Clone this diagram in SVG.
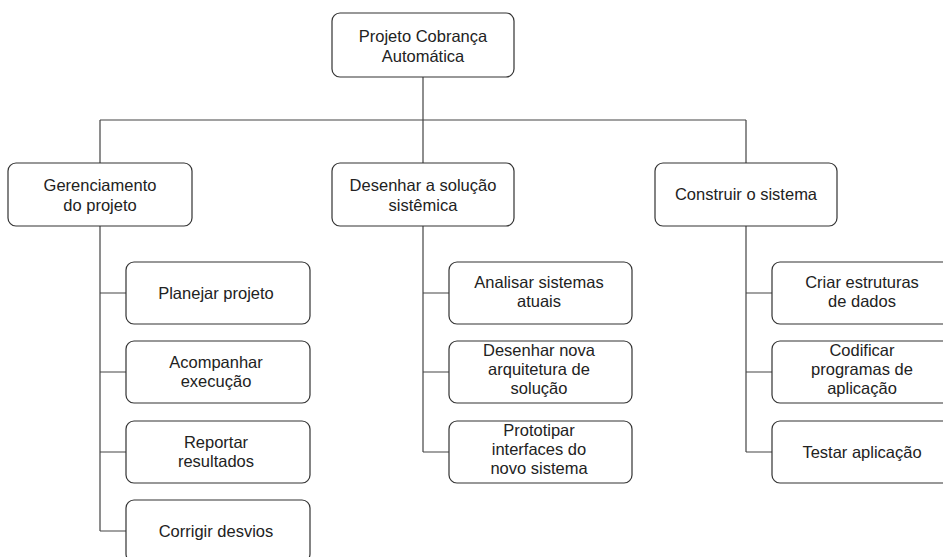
<svg xmlns="http://www.w3.org/2000/svg" width="943" height="557" viewBox="0 0 943 557">
<style>
.b{fill:#fff;stroke:#333;stroke-width:1.2}
.t{font-family:"Liberation Sans",Arial,sans-serif;font-size:16.5px;fill:#222;text-anchor:middle}
.c{fill:none;stroke:#444;stroke-width:1.2}
</style>
<rect width="943" height="557" fill="#fff"/>
<g id="connectors">
<path class="c" d="M423,77V120M100,120H746M100,120V163M423,120V163M746,120V163"/>
<path class="c" d="M100,226V531M100,293H126M100,372H126M100,452H126M100,531H126"/>
<path class="c" d="M423,226V452M423,293H449M423,372H449M423,452H449"/>
<path class="c" d="M746,226V452M746,293H772M746,372H772M746,452H772"/>
</g>
<g id="root"><rect class="b" x="332" y="13" width="182" height="64" rx="8"/><text class="t" x="423" y="42">Projeto Cobrança</text><text class="t" x="423" y="62">Automática</text></g>
<g id="gerenciamento"><rect class="b" x="8" y="163" width="184" height="63" rx="8"/><text class="t" x="100" y="191">Gerenciamento</text><text class="t" x="100" y="211">do projeto</text></g>
<g id="desenhar"><rect class="b" x="332" y="163" width="182" height="63" rx="8"/><text class="t" x="423" y="191">Desenhar a solução</text><text class="t" x="423" y="211">sistêmica</text></g>
<g id="construir"><rect class="b" x="655" y="163" width="182" height="63" rx="8"/><text class="t" x="746" y="200">Construir o sistema</text></g>
<g id="planejar"><rect class="b" x="126" y="262" width="184" height="62" rx="8"/><text class="t" x="216" y="299">Planejar projeto</text></g>
<g id="acompanhar"><rect class="b" x="126" y="341" width="184" height="62" rx="8"/><text class="t" x="216" y="368">Acompanhar</text><text class="t" x="216" y="387">execução</text></g>
<g id="reportar"><rect class="b" x="126" y="421" width="184" height="62" rx="8"/><text class="t" x="216" y="448">Reportar</text><text class="t" x="216" y="467">resultados</text></g>
<g id="corrigir"><rect class="b" x="126" y="500" width="184" height="62" rx="8"/><text class="t" x="216" y="537">Corrigir desvios</text></g>
<g id="analisar"><rect class="b" x="449" y="262" width="183" height="62" rx="8"/><text class="t" x="539" y="288">Analisar sistemas</text><text class="t" x="539" y="307">atuais</text></g>
<g id="desenharnova"><rect class="b" x="449" y="341" width="183" height="62" rx="8"/><text class="t" x="539" y="356">Desenhar nova</text><text class="t" x="539" y="375">arquitetura de</text><text class="t" x="539" y="394">solução</text></g>
<g id="prototipar"><rect class="b" x="449" y="421" width="183" height="62" rx="8"/><text class="t" x="539" y="436">Prototipar</text><text class="t" x="539" y="455">interfaces do</text><text class="t" x="539" y="474">novo sistema</text></g>
<g id="criar"><rect class="b" x="772" y="262" width="183" height="62" rx="8"/><text class="t" x="862" y="288">Criar estruturas</text><text class="t" x="862" y="307">de dados</text></g>
<g id="codificar"><rect class="b" x="772" y="341" width="183" height="62" rx="8"/><text class="t" x="862" y="356">Codificar</text><text class="t" x="862" y="375">programas de</text><text class="t" x="862" y="394">aplicação</text></g>
<g id="testar"><rect class="b" x="772" y="421" width="183" height="62" rx="8"/><text class="t" x="862" y="458">Testar aplicação</text></g>
</svg>
